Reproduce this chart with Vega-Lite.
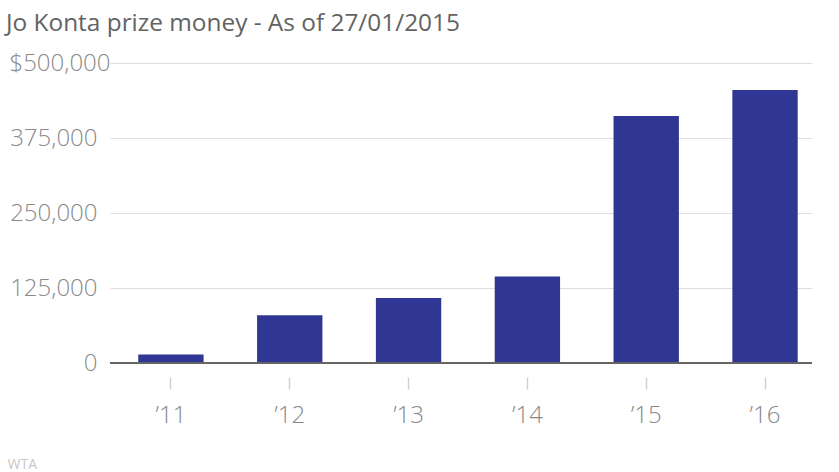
{
  "$schema": "https://vega.github.io/schema/vega-lite/v6.json",
  "width": 702,
  "height": 300,
  "autosize": {"type": "none"},
  "padding": {"left": 110, "top": 63, "right": 27, "bottom": 109},
  "background": "white",
  "title": {
    "text": "Jo Konta prize money - As of 27/01/2015",
    "anchor": "start",
    "frame": "group",
    "dx": -104,
    "dy": 4,
    "baseline": "alphabetic",
    "offset": 0,
    "font": "Open Sans",
    "fontSize": 24.4,
    "fontWeight": "normal",
    "color": "#636363"
  },
  "data": {
    "values": [
      {"year": "’11", "prize": 14000},
      {"year": "’12", "prize": 79500},
      {"year": "’13", "prize": 108500},
      {"year": "’14", "prize": 144000},
      {"year": "’15", "prize": 411500},
      {"year": "’16", "prize": 455000}
    ]
  },
  "config": {
    "view": {"stroke": null},
    "font": "Open Sans"
  },
  "layer": [
    {
      "mark": {"type": "bar", "color": "#303693"},
      "encoding": {
        "x": {
          "field": "year",
          "type": "ordinal",
          "sort": null,
          "scale": {"paddingInner": 0.45, "paddingOuter": 0.179, "align": 0.664},
          "axis": {
            "title": "WTA",
            "titleAnchor": "start",
            "titleAlign": "left",
            "titleBaseline": "alphabetic",
            "titleX": -103,
            "titleY": 91,
            "titleFont": "Open Sans",
            "titleFontSize": 14,
            "titleFontWeight": "normal",
            "titleColor": "#c8c8c8",
            "domain": false,
            "offset": 14,
            "tickSize": 12,
            "tickColor": "#d0d0d0",
            "tickWidth": 1.5,
            "labelAngle": 0,
            "labelFont": "Open Sans",
            "labelFontSize": 24,
            "labelFontWeight": 300,
            "labelColor": "#888888",
            "labelPadding": 14
          }
        },
        "y": {
          "field": "prize",
          "type": "quantitative",
          "scale": {"domain": [0, 500000]},
          "axis": {
            "title": null,
            "values": [0, 125000, 250000, 375000, 500000],
            "labelExpr": "datum.value === 500000 ? '$500,000' : format(datum.value, ',')",
            "domain": false,
            "ticks": false,
            "grid": true,
            "gridColor": "#dddddd",
            "gridWidth": 1,
            "labelFont": "Open Sans",
            "labelFontSize": 24,
            "labelFontWeight": 300,
            "labelColor": "#8a8a8a",
            "labelPadding": {"condition": {"test": "datum.value === 500000", "value": 0}, "value": 13}
          }
        }
      }
    },
    {
      "mark": {"type": "rule", "color": "#666666", "strokeWidth": 1.5},
      "encoding": {"y": {"datum": 0}}
    }
  ]
}
